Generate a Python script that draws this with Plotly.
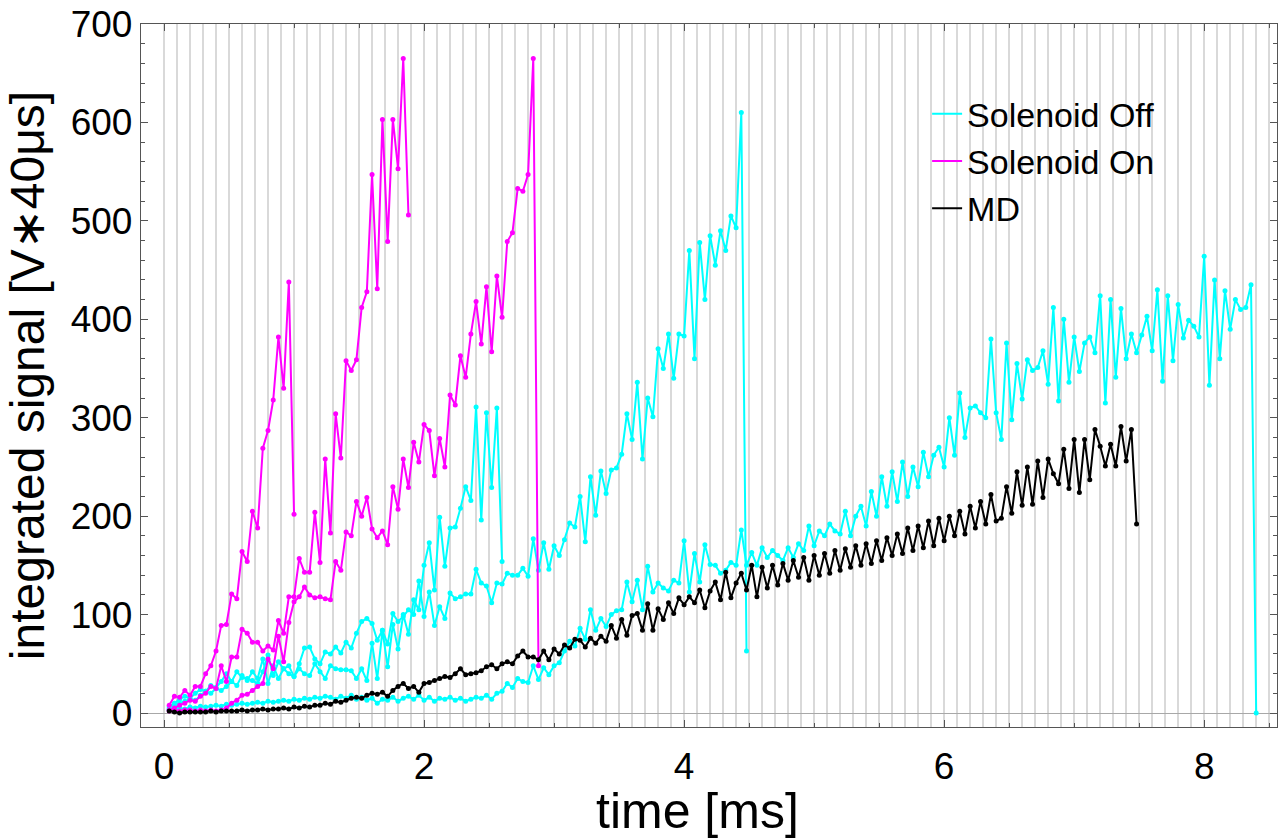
import plotly.graph_objects as go

# Integrated signal per 40 us window, sampled every 40 us (first sample at 0.04 ms)
DT = 0.04  # ms

# Solenoid On (three shots)
on_1 = [
    8, 17, 16, 23, 18, 27, 27, 40, 48, 63,
    89, 90, 121, 116, 164, 154, 205, 188, 269, 287,
    318, 382, 330, 438, 202,
]
on_2 = [
    3, 5, 8, 10, 13, 12, 17, 20, 27, 25,
    48, 32, 57, 57, 85, 81, 72, 72, 63, 68,
    64, 94, 81, 118, 118, 157, 143, 143, 204, 153,
    258, 183, 304, 259, 358, 348, 359, 412, 428, 547,
    431, 603, 479, 603, 553, 665, 506,
]
on_3 = [
    2, 3, 2, 3, 3, 2, 3, 2, 3, 2,
    3, 5, 10, 13, 18, 19, 23, 27, 30, 55,
    45, 78, 52, 92, 113, 118, 128, 120, 117, 118,
    116, 115, 154, 145, 184, 180, 215, 200, 219, 187,
    178, 185, 171, 230, 207, 258, 229, 275, 255, 293,
    287, 241, 279, 250, 323, 313, 363, 341, 385, 418,
    375, 433, 367, 444, 402, 479, 488, 533, 530, 547,
    665, 48,
]

# Solenoid Off (three shots)
off_1 = [
    4, 6, 10, 12, 14, 13, 18, 22, 20, 25,
    23, 27, 32, 28, 38, 33, 42, 35, 55, 30,
    48, 35, 45, 40, 37, 45, 40, 38, 50, 42,
    35, 48, 45, 44, 44, 43, 35, 45, 33, 71,
    35, 84, 47, 90, 65, 100, 80, 115, 105, 150,
    173, 125, 199, 149, 188, 189, 208, 230, 216, 311,
    196, 305, 229, 310, 154,
]
off_2 = [
    6, 10, 14, 17, 15, 20, 24, 22, 28, 26,
    32, 40, 32, 42, 36, 35, 33, 30, 42, 59,
    38, 52, 45, 48, 37, 50, 66, 67, 55, 50,
    62, 60, 67, 61, 72, 66, 81, 93, 96, 91,
    74, 84, 70, 101, 93, 98, 105, 100, 134, 98,
    123, 89, 108, 96, 122, 116, 118, 121, 121, 146,
    132, 129, 112, 132, 131, 142, 140, 140, 147, 139,
    177, 145, 173, 146, 170, 160, 176, 193, 189, 220,
    174, 240, 201, 246, 223, 247, 249, 263, 304, 278,
    336, 258, 320, 301, 370, 350, 385, 340, 385, 383,
    470, 360, 478, 420, 485, 455, 490, 470, 505, 493,
    610, 63,
]
off_3 = [
    3, 4, 5, 4, 6, 5, 7, 6, 7, 8,
    7, 9, 8, 9, 10, 9, 10, 11, 10, 12,
    11, 12, 13, 12, 14, 13, 15, 14, 16, 15,
    17, 16, 14, 17, 15, 18, 14, 16, 13, 15,
    10, 14, 13, 16, 12, 15, 17, 14, 18, 13,
    16, 12, 15, 14, 16, 13, 15, 12, 14, 16,
    15, 18, 14, 20, 22, 30, 26, 35, 32, 31,
    48, 34, 46, 39, 48, 51, 63, 73, 68, 86,
    75, 105, 84, 96, 88, 100, 104, 105, 133, 113,
    135, 105, 149, 123, 132, 127, 124, 135, 132, 175,
    123, 162, 133, 171, 151, 150, 142, 145, 153, 150,
    186, 150, 163, 150, 168, 158, 165, 160, 155, 168,
    158, 172, 165, 190, 170, 185, 180, 192, 185, 182,
    205, 180, 200, 210, 190, 225, 200, 240, 210, 245,
    215, 255, 220, 250, 230, 265, 240, 262, 270, 250,
    300, 262, 325, 280, 310, 312, 305, 300, 380, 305,
    278, 376, 298, 355, 319, 359, 348, 351, 368, 334,
    412, 317, 400, 336, 382, 347, 376, 382, 366, 424,
    315, 420, 341, 411, 360, 385, 366, 384, 403, 368,
    430, 337, 424, 358, 415, 381, 399, 393, 382, 464,
    333, 440, 360, 429, 390, 420, 410, 412, 435, 0,
]

# MD
md = [
    2, 1, 0, 1, 1, 1, 1, 1, 2, 1,
    2, 2, 2, 2, 3, 2, 3, 3, 4, 3,
    4, 4, 5, 4, 6, 5, 7, 6, 8, 8,
    10, 9, 12, 11, 13, 15, 16, 15, 18, 20,
    19, 21, 17, 23, 27, 30, 25, 27, 21, 30,
    31, 33, 35, 37, 36, 40, 45, 39, 40, 41,
    43, 47, 49, 45, 50, 52, 50, 58, 63, 57,
    57, 54, 63, 54, 65, 60, 69, 66, 75, 74,
    67, 76, 71, 78, 73, 89, 76, 95, 79, 99,
    101, 84, 111, 84, 106, 95, 112, 101, 117, 110,
    118, 112, 125, 107, 124, 133, 115, 143, 117, 132,
    142, 125, 150, 118, 148, 127, 150, 130, 152, 135,
    155, 138, 158, 135, 160, 140, 162, 142, 165, 145,
    167, 148, 170, 150, 172, 152, 175, 155, 178, 160,
    182, 162, 188, 165, 190, 168, 195, 170, 198, 175,
    200, 180, 205, 182, 210, 188, 215, 192, 222, 195,
    198, 230, 203, 245, 211, 250, 212, 256, 219, 258,
    243, 233, 268, 228, 278, 224, 278, 237, 288, 271,
    251, 273, 251, 291, 256, 288, 192,
]

# (legend label, colour, shots, x-axis the traces live on)
groups = [
    ("Solenoid Off", "#00FFFF", [off_1, off_2, off_3], "x"),
    ("Solenoid On", "#FF00FF", [on_1, on_2, on_3], "x"),
    ("MD", "#000000", [md], "x2"),
]

FONT = "Liberation Sans, Arial, Helvetica, sans-serif"

fig = go.Figure()
for name, color, shots, xax in groups:
    for i, vals in enumerate(shots):
        t = [DT * (k + 1) for k in range(len(vals))]
        fig.add_trace(go.Scatter(
            x=t, y=vals, xaxis=xax, mode="lines", name=name, legendgroup=name,
            showlegend=(i == 0), line=dict(color=color, width=2),
            hoverinfo="skip",
        ))
        fig.add_trace(go.Scatter(
            x=t, y=vals, xaxis=xax, mode="markers", legendgroup=name, showlegend=False,
            marker=dict(color=color, size=5), hoverinfo="skip",
        ))

X_RANGE = [-0.177, 8.56]
Y_RANGE = [-14.2, 700]
AX = "#555555"
GRID_X = [round(0.1 * i, 1) for i in range(86)]  # light rulings every 0.1 ms

fig.update_layout(
    width=1284, height=839,
    margin=dict(l=141, r=7, t=24, b=112, autoexpand=False),
    paper_bgcolor="white", plot_bgcolor="white",
    font=dict(family=FONT, color="black"),
    showlegend=True,
    legend=dict(
        x=0.692, y=0.913, xanchor="left", yanchor="top",
        bgcolor="rgba(0,0,0,0)", font=dict(size=34, family=FONT),
        itemwidth=30, tracegroupgap=0,
    ),
    # grid rulings
    xaxis=dict(
        range=X_RANGE, tickmode="array", tickvals=GRID_X,
        showgrid=True, gridcolor="#d9d9d9", gridwidth=1.5,
        ticks="", showticklabels=False, automargin=False,
        showline=True, linecolor=AX, linewidth=1.3, mirror=True,
        zeroline=False,
    ),
    # labelled time axis with major/minor ticks on both frame edges
    xaxis2=dict(
        range=X_RANGE, overlaying="x", side="bottom", anchor="y",
        tick0=0, dtick=2, automargin=False,
        ticks="inside", ticklen=7, tickwidth=1.2, tickcolor=AX,
        minor=dict(dtick=0.5, ticks="inside", ticklen=4, tickcolor=AX, showgrid=False),
        showline=True, linecolor=AX, linewidth=1.3, mirror="ticks",
        showgrid=False, zeroline=False,
        tickfont=dict(size=37), ticklabelstandoff=6,
    ),
    yaxis=dict(
        range=Y_RANGE, tick0=0, dtick=100, automargin=False,
        ticks="inside", ticklen=7, tickwidth=1.2, tickcolor=AX,
        minor=dict(dtick=20, ticks="inside", ticklen=4, tickcolor=AX, showgrid=False),
        showline=True, linecolor=AX, linewidth=1.3, mirror="ticks",
        showgrid=False, zeroline=True, zerolinecolor="#a8a8a8", zerolinewidth=1,
        tickfont=dict(size=37),
        title=dict(text="integrated signal [V\u221740\u03bcs]", font=dict(size=48), standoff=10),
    ),
    # time-axis label set below the tick labels
    annotations=[dict(
        text="time [ms]", xref="paper", yref="paper", x=0.5, y=0,
        xanchor="center", yanchor="top", xshift=-12, yshift=-54,
        showarrow=False, font=dict(size=50, family=FONT, color="black"),
    )],
)

fig.write_html("out.html")
